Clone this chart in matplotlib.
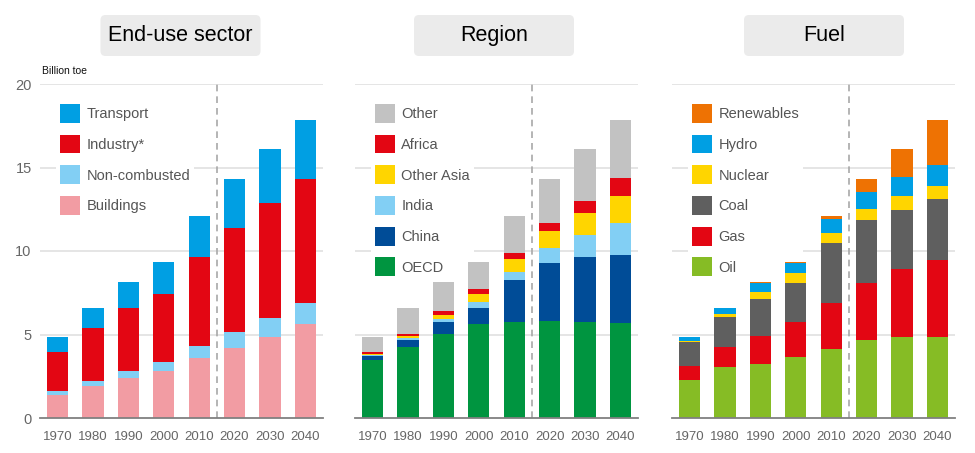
import matplotlib
matplotlib.use("Agg")
import matplotlib.pyplot as plt
from matplotlib.patches import FancyBboxPatch, Patch
import numpy as np

plt.rcParams['font.family'] = ['Liberation Sans', 'DejaVu Sans']

years = ["1970", "1980", "1990", "2000", "2010", "2020", "2030", "2040"]

# End-use sector (Billion toe)
buildings     = [1.40, 1.94, 2.42, 2.81, 3.59, 4.21, 4.87, 5.63]
noncombusted  = [0.20, 0.26, 0.41, 0.56, 0.70, 0.94, 1.12, 1.24]
industry      = [2.35, 3.17, 3.74, 4.03, 5.37, 6.21, 6.88, 7.46]
transport     = [0.92, 1.23, 1.55, 1.96, 2.46, 2.95, 3.24, 3.53]

# Region
oecd       = [3.49, 4.25, 5.01, 5.61, 5.75, 5.81, 5.77, 5.71]
china      = [0.24, 0.44, 0.72, 1.00, 2.49, 3.49, 3.87, 4.05]
india      = [0.06, 0.08, 0.20, 0.32, 0.50, 0.86, 1.32, 1.90]
other_asia = [0.06, 0.16, 0.26, 0.50, 0.78, 1.02, 1.32, 1.65]
africa     = [0.08, 0.12, 0.24, 0.27, 0.38, 0.50, 0.69, 1.06]
other      = [0.94, 1.55, 1.69, 1.66, 2.22, 2.63, 3.14, 3.49]

# Fuel
oil        = [2.30, 3.05, 3.21, 3.67, 4.13, 4.65, 4.83, 4.87]
gas        = [0.83, 1.20, 1.68, 2.10, 2.76, 3.43, 4.09, 4.61]
coal       = [1.42, 1.82, 2.24, 2.33, 3.57, 3.78, 3.56, 3.61]
nuclear    = [0.04, 0.14, 0.41, 0.58, 0.64, 0.64, 0.79, 0.82]
hydro      = [0.26, 0.37, 0.54, 0.62, 0.82, 1.01, 1.16, 1.22]
renewables = [0.02, 0.02, 0.04, 0.06, 0.20, 0.80, 1.68, 2.73]

panels = [
    ("End-use sector",
     [("Buildings", buildings, "#F29CA3"),
      ("Non-combusted", noncombusted, "#82CFF4"),
      ("Industry*", industry, "#E30613"),
      ("Transport", transport, "#009FE3")]),
    ("Region",
     [("OECD", oecd, "#009540"),
      ("China", china, "#004C97"),
      ("India", india, "#82CFF4"),
      ("Other Asia", other_asia, "#FFD500"),
      ("Africa", africa, "#E30613"),
      ("Other", other, "#C2C2C2")]),
    ("Fuel",
     [("Oil", oil, "#86BC25"),
      ("Gas", gas, "#E30613"),
      ("Coal", coal, "#5F5F5F"),
      ("Nuclear", nuclear, "#FFD500"),
      ("Hydro", hydro, "#009FE3"),
      ("Renewables", renewables, "#EE7203")]),
]

W, H = 975, 453
fig = plt.figure(figsize=(W / 100, H / 100), dpi=100)

ax_lefts = [40, 355, 672]
ax_w = 283
ax_top, ax_bot = 84, 418
box_centers = [180.5, 494, 824]

x = np.arange(len(years))
for i, (title, series) in enumerate(panels):
    ax = fig.add_axes([ax_lefts[i] / W, (H - ax_bot) / H, ax_w / W, (ax_bot - ax_top) / H])
    ax.set_xlim(-0.5, len(years) - 0.5)
    ax.set_ylim(0, 20)
    for g in [5, 10, 15, 20]:
        ax.axhline(g, color="#e3e3e3", lw=1.3, zorder=0)
    bottom = np.zeros(len(years))
    handles = []
    for name, vals, col in series:
        ax.bar(x, vals, width=0.6, bottom=bottom, color=col, zorder=2, linewidth=0)
        bottom += np.array(vals)
        handles.append(Patch(facecolor=col, edgecolor="none", label=name))
    ax.axvline(4.5, color="#a8a8a8", lw=1.2, ls=(0, (4, 3)), zorder=1)
    for s in ["top", "right", "left"]:
        ax.spines[s].set_visible(False)
    ax.spines["bottom"].set_color("#808080")
    ax.spines["bottom"].set_linewidth(1.3)
    ax.spines["bottom"].set_zorder(3)
    ax.set_xticks(x)
    ax.set_xticklabels(years, color="#666666", fontsize=9.5)
    ax.tick_params(axis="x", length=0, pad=9)
    if i == 0:
        ax.set_yticks([0, 5, 10, 15, 20])
        ax.set_yticklabels(["0", "5", "10", "15", "20"], color="#666666", fontsize=10.5)
        ax.tick_params(axis="y", length=0, pad=6)
    else:
        ax.set_yticks([])
    fs = 10.5
    fpx = fs * 100 / 72
    bp = 0.3
    leg = ax.legend(handles=handles[::-1], loc="upper left",
                    bbox_to_anchor=((20 - bp * fpx) / ax_w, 1 - (20 - bp * fpx) / 334),
                    borderaxespad=0, borderpad=bp, frameon=True, facecolor="white",
                    edgecolor="none", framealpha=1, fancybox=False,
                    handlelength=1.4, handleheight=1.6, labelspacing=0.82,
                    handletextpad=0.4, prop={"size": fs})
    for t in leg.get_texts():
        t.set_color("#555555")
    leg.set_zorder(1.5)

    # title box
    bw, bh = 160, 41
    cx = box_centers[i]
    cy = 35.5
    box = FancyBboxPatch(((cx - bw / 2) / 100, (H - cy - bh / 2) / 100), bw / 100, bh / 100,
                         boxstyle="round,pad=0,rounding_size=0.05",
                         transform=fig.dpi_scale_trans, facecolor="#ebebeb",
                         edgecolor="none")
    fig.patches.append(box)
    fig.text(cx / W, 1 - cy / H, title, ha="center", va="center", fontsize=15.5, color="black")

fig.text(42 / W, 1 - 71 / H, "Billion toe", ha="left", va="center", fontsize=7.5, color="#111111")

fig.savefig("out.png", dpi=100)
